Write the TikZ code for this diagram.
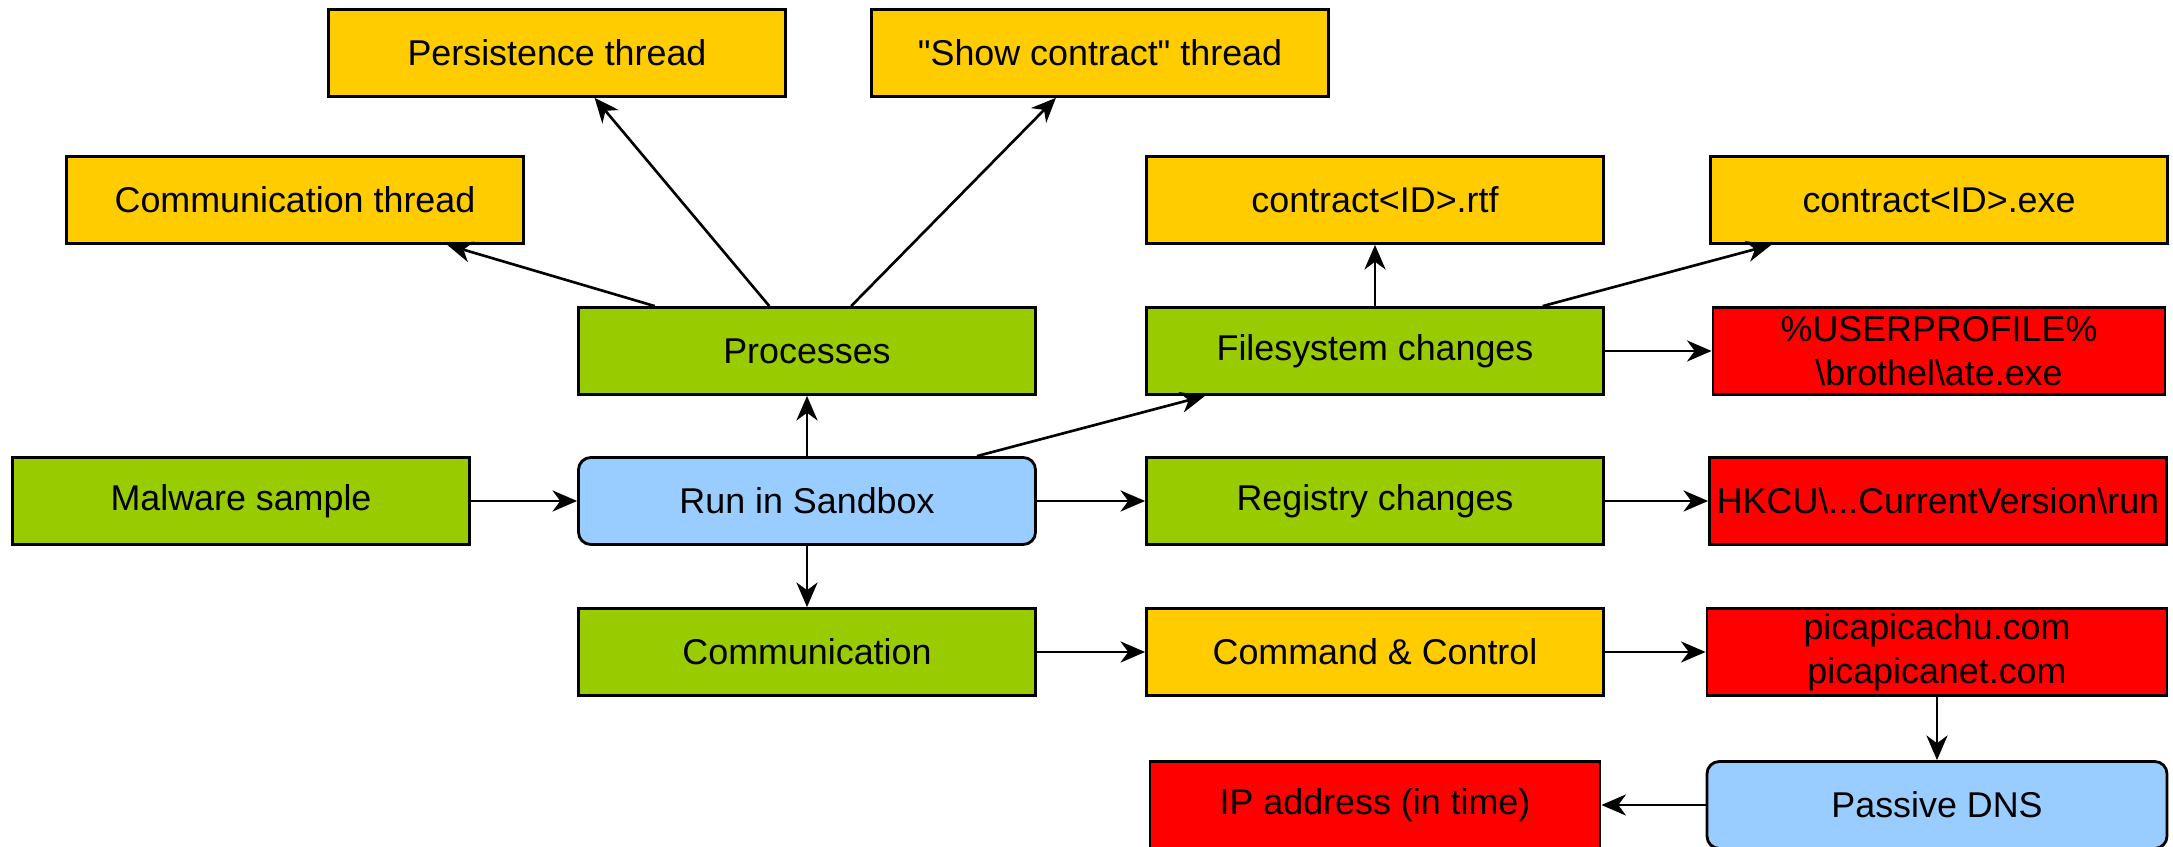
\documentclass[tikz,border=0pt]{standalone}
\usepackage{fontspec}
\setmainfont{Liberation Sans}
\usetikzlibrary{arrows.meta}

\definecolor{thrdyellow}{HTML}{FFCC00}
\definecolor{chggreen}{HTML}{99CC00}
\definecolor{iocred}{HTML}{FF0000}
\definecolor{toolblue}{HTML}{99CCFF}

\begin{document}
\begin{tikzpicture}[
            every node/.style={font=\fontsize{10.2}{12.6}\selectfont},
            box/.style={draw=black, line width=0.8pt, minimum width=4.57cm,
                minimum height=0.87cm, inner sep=0pt, align=center},
            yellowbox/.style={box, fill=thrdyellow},
            greenbox/.style={box, fill=chggreen},
            redbox/.style={box, fill=iocred},
            bluebox/.style={box, fill=toolblue, rounded corners=3.5pt},
            edge/.style={line width=0.75pt,
                -{Stealth[length=7pt,width=6pt,inset=2.2pt]}}]
            \useasboundingbox (0,0) rectangle (21.73,-8.47);

            % threads
            \node[yellowbox] (persist) at (5.57,-0.53) {Persistence thread};
            \node[yellowbox] (showc)   at (11.00,-0.53) {\textquotedbl Show contract\textquotedbl{} thread};
            \node[yellowbox] (commt)   at (2.95,-2.00) {Communication thread};
            % dropped files
            \node[yellowbox] (rtf)     at (13.75,-2.00) {contract<ID>.rtf};
            \node[yellowbox] (exe)     at (19.39,-2.00) {contract<ID>.exe};

            \node[greenbox] (proc)     at (8.07,-3.51) {Processes};
            \node[greenbox] (fs)       at (13.75,-3.51) {Filesystem changes};
            \node[redbox, minimum width=4.52cm] (userp) at (19.39,-3.51)
                {\%USERPROFILE\%\\\textbackslash brothel\textbackslash ate.exe};

            \node[greenbox] (malware)  at (2.41,-5.01) {Malware sample};
            \node[bluebox] (sbox)      at (8.07,-5.01) {Run in Sandbox};
            \node[greenbox] (reg)      at (13.75,-5.01) {Registry changes};
            \node[redbox] (hkcu)       at (19.38,-5.01)
                {HKCU\textbackslash...CurrentVersion\textbackslash run};

            \node[greenbox] (comm)     at (8.07,-6.52) {Communication};
            \node[yellowbox] (cc)      at (13.75,-6.52) {Command \& Control};
            \node[redbox, minimum width=4.60cm] (pica) at (19.37,-6.52)
                {picapicachu.com\\picapicanet.com};

            \node[redbox, minimum width=4.50cm] (ip) at (13.75,-8.05) {IP address (in time)};
            \node[bluebox, minimum width=4.60cm] (pdns) at (19.37,-8.05) {Passive DNS};

            \foreach \a/\b in {malware/sbox, sbox/proc, sbox/comm, sbox/reg, sbox/fs,
                proc/commt, proc/persist, proc/showc,
                fs/rtf, fs/exe, fs/userp, reg/hkcu,
                comm/cc, cc/pica, pica/pdns, pdns/ip}
                \draw[edge] (\a) -- (\b);

        \end{tikzpicture}
\end{document}
